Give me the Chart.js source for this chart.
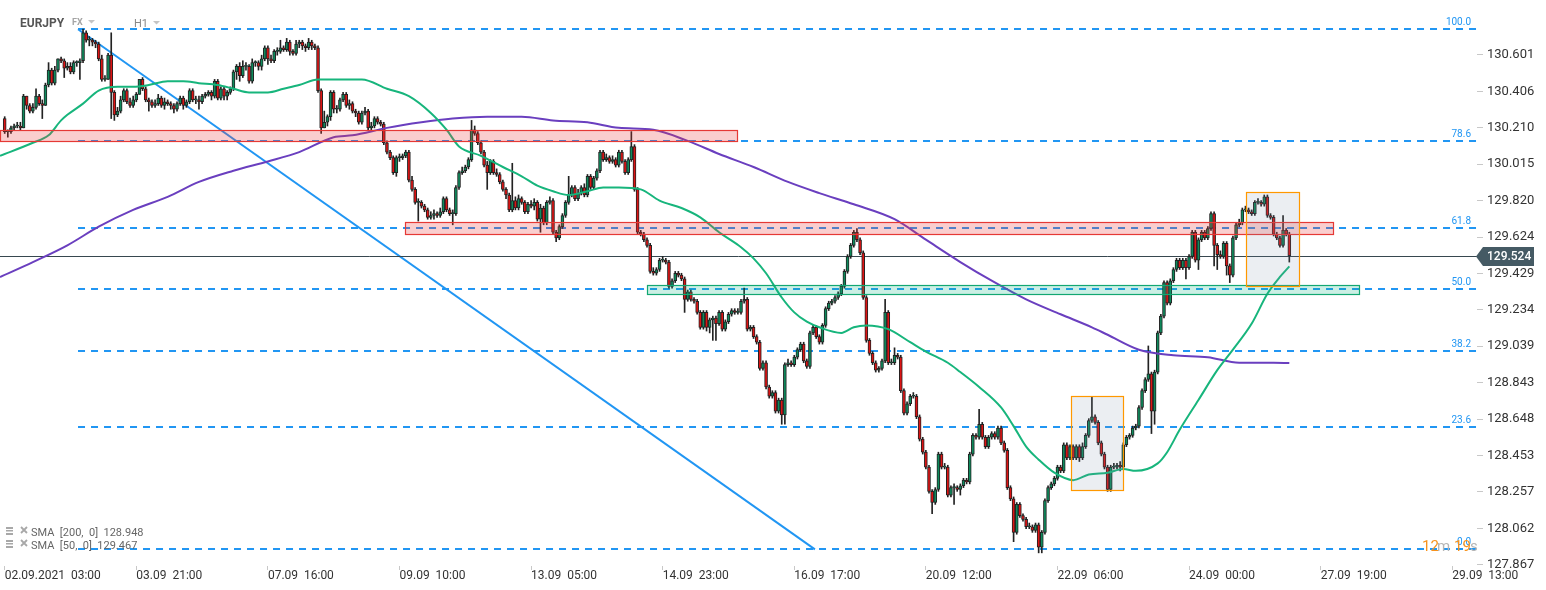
<!DOCTYPE html>
<html>
<head>
<meta charset="utf-8">
<script src="https://cdn.jsdelivr.net/npm/chart.js@4"></script>
<style>
  body { margin: 0; background: #fff; }
  canvas { display: block; }
</style>
</head>
<body>
<canvas id="chart" width="1546" height="590"></canvas>
<script>
// EURJPY H1 candles, one per hour from 02.09 03:00
const firstOpen = 130.26;
const closes = [
  130.19,130.19,130.21,130.22,130.22,130.21,130.38,130.33,130.30,130.32,
  130.38,130.34,130.33,130.44,130.52,130.45,130.52,130.58,130.57,130.53,
  130.54,130.51,130.56,130.56,130.57,130.72,130.68,130.68,130.67,130.66,
  130.58,130.47,130.47,130.60,130.40,130.28,130.30,130.36,130.41,130.35,
  130.33,130.36,130.39,130.47,130.42,130.36,130.35,130.33,130.34,130.37,
  130.33,130.35,130.34,130.33,130.31,130.34,130.37,130.33,130.35,130.41,
  130.36,130.36,130.35,130.38,130.39,130.40,130.38,130.46,130.37,130.42,
  130.38,130.40,130.42,130.51,130.54,130.49,130.54,130.54,130.46,130.56,
  130.56,130.54,130.58,130.64,130.58,130.57,130.62,130.62,130.64,130.63,
  130.67,130.62,130.61,130.66,130.67,130.65,130.64,130.67,130.65,130.64,
  130.41,130.21,130.24,130.27,130.40,130.31,
  130.31,130.36,130.39,130.33,130.34,130.30,130.29,130.24,130.29,130.30,
  130.21,130.22,130.26,130.24,130.23,130.13,130.08,130.05,129.97,130.05,
  130.05,130.06,130.08,129.93,129.88,129.81,129.81,129.79,129.77,129.73,
  129.74,129.75,129.74,129.76,129.83,129.77,129.75,129.75,129.89,129.97,
  129.98,130.00,130.04,130.20,130.18,130.13,130.08,130.01,129.97,130.03,
  129.97,129.96,129.92,129.88,129.85,129.77,129.82,129.78,129.83,129.81,
  129.76,129.80,129.79,129.81,129.72,129.78,129.70,129.81,129.82,129.65,
  129.62,129.68,129.74,129.81,129.85,129.89,129.83,129.86,129.89,129.85,
  129.95,129.89,129.94,129.98,130.08,130.04,130.05,130.03,130.04,130.01,
  130.08,130.03,129.97,130.04,130.11,129.88,129.65,
  129.64,129.61,129.58,129.44,129.43,129.45,129.50,129.50,129.49,129.36,
  129.39,129.43,129.42,129.40,129.29,129.33,129.29,129.28,129.22,129.14,
  129.22,129.14,129.18,129.19,129.16,129.22,129.13,129.17,129.21,129.23,
  129.22,129.22,129.28,129.29,129.13,129.14,129.09,129.06,128.92,128.95,
  128.82,128.77,128.79,128.69,128.75,128.67,128.94,128.95,128.94,128.98,
  129.02,129.05,128.96,128.93,129.11,129.14,129.09,129.06,129.15,129.24,
  129.27,129.28,129.30,129.32,129.36,129.44,129.52,129.58,129.65,129.61,
  129.54,129.30,129.07,129.00,128.95,128.91,128.92,128.96,129.22,128.95,
  128.95,128.99,128.98,128.80,128.68,128.73,128.77,128.77,128.66,128.54,
  128.47,128.39,128.26,128.20,128.27,128.46,128.39,128.39,128.24,128.28,
  128.28,128.27,128.29,128.32,128.31,128.46,128.56,128.55,128.62,128.55,
  128.50,128.55,128.57,128.55,128.60,128.52,128.48,128.28,128.22,128.04,
  128.19,128.13,128.11,128.07,128.07,128.05,128.08,127.96,128.04,128.21,
  128.28,128.30,128.33,128.39,128.37,128.51,128.44,128.50,128.44,128.50,
  128.44,128.50,128.56,128.64,128.66,128.63,128.52,128.46,128.39,128.27,
  128.39,128.39,128.40,128.39,128.51,128.55,128.56,128.60,128.61,128.71,
  128.80,128.86,128.89,128.69,128.90,129.11,129.20,129.38,129.27,129.39,
  129.45,129.50,129.46,129.50,129.46,129.52,129.65,129.50,129.61,129.65,
  129.62,129.67,129.75,129.58,129.53,129.52,129.59,129.47,129.42,129.62,
  129.69,129.70,129.77,129.77,129.76,129.75,129.81,129.81,129.80,129.84,
  129.74,129.73,129.64,129.62,129.58,129.66,129.64,129.524
];
const highs = [
  130.27,130.20,130.22,130.23,130.24,130.24,130.39,130.38,130.34,130.34,
  130.42,130.39,130.36,130.45,130.56,130.53,130.54,130.58,130.59,130.58,
  130.56,130.56,130.57,130.57,130.58,130.74,130.73,130.70,130.69,130.68,
  130.67,130.60,130.49,130.61,130.72,130.41,130.32,130.38,130.42,130.42,
  130.37,130.38,130.40,130.47,130.48,130.43,130.37,130.36,130.36,130.39,
  130.38,130.37,130.36,130.35,130.34,130.35,130.38,130.38,130.36,130.42,
  130.42,130.38,130.38,130.39,130.40,130.41,130.41,130.47,130.47,130.43,
  130.43,130.41,130.43,130.52,130.55,130.56,130.57,130.56,130.55,130.58,
  130.57,130.57,130.60,130.65,130.65,130.60,130.63,130.64,130.68,130.65,
  130.69,130.68,130.63,130.68,130.68,130.68,130.66,130.69,130.68,130.66,
  130.65,130.42,130.30,130.28,130.41,130.41,
  130.33,130.37,130.40,130.40,130.36,130.35,130.31,130.30,130.30,130.32,
  130.31,130.24,130.27,130.27,130.25,130.24,130.14,130.09,130.06,130.06,
  130.07,130.07,130.09,130.09,129.95,129.89,129.83,129.82,129.80,129.78,
  129.76,129.77,129.76,129.78,129.84,129.84,129.78,129.77,129.90,129.98,
  130.00,130.01,130.05,130.25,130.22,130.19,130.14,130.09,130.03,130.04,
  130.04,129.99,129.97,129.93,129.89,129.86,130.02,129.84,129.85,129.84,
  129.82,129.81,129.82,129.83,129.82,129.80,129.79,129.82,129.84,129.83,
  129.66,129.69,129.75,129.82,129.95,129.90,129.90,129.88,129.90,129.91,
  129.96,129.96,129.95,129.99,130.09,130.09,130.07,130.06,130.06,130.05,
  130.09,130.09,130.04,130.05,130.19,130.12,129.89,
  129.66,129.65,129.62,129.59,129.46,129.46,129.51,129.52,129.51,129.50,
  129.40,129.44,129.44,129.43,129.41,129.34,129.34,129.30,129.29,129.23,
  129.23,129.23,129.19,129.20,129.20,129.23,129.23,129.18,129.22,129.24,
  129.24,129.24,129.29,129.35,129.30,129.15,129.15,129.10,129.07,128.96,
  128.96,128.83,128.80,128.80,128.76,128.76,128.95,128.97,128.96,128.99,
  129.03,129.06,129.06,128.97,129.12,129.15,129.15,129.10,129.16,129.25,
  129.28,129.29,129.31,129.33,129.37,129.45,129.53,129.59,129.66,129.67,
  129.62,129.55,129.31,129.08,129.01,128.96,128.93,128.97,129.29,129.23,
  128.97,129.03,129.00,128.99,128.81,128.74,128.78,128.79,128.78,128.67,
  128.55,128.48,128.40,128.27,128.28,128.47,128.47,128.41,128.40,128.29,
  128.30,128.29,128.30,128.33,128.33,128.47,128.57,128.57,128.70,128.63,
  128.56,128.56,128.58,128.58,128.61,128.61,128.53,128.49,128.29,128.23,
  128.20,128.20,128.14,128.12,128.09,128.08,128.09,128.09,128.05,128.22,
  128.29,128.31,128.34,128.40,128.40,128.52,128.52,128.51,128.51,128.51,
  128.51,128.52,128.57,128.65,128.77,128.67,128.64,128.53,128.47,128.40,
  128.40,128.41,128.41,128.42,128.52,128.56,128.57,128.61,128.62,128.72,
  128.81,128.87,129.04,128.90,128.91,129.12,129.21,129.39,129.39,129.40,
  129.46,129.51,129.51,129.51,129.51,129.53,129.66,129.66,129.62,129.66,
  129.66,129.68,129.76,129.76,129.59,129.55,129.60,129.60,129.48,129.63,
  129.70,129.72,129.78,129.79,129.78,129.77,129.82,129.83,129.82,129.85,
  129.85,129.75,129.74,129.65,129.63,129.74,129.67,129.65
];
const lows = [
  130.18,130.16,130.18,130.20,130.21,130.20,130.21,130.31,130.29,130.29,
  130.31,130.33,130.26,130.33,130.43,130.44,130.44,130.51,130.56,130.48,
  130.52,130.50,130.50,130.54,130.47,130.56,130.67,130.65,130.65,130.64,
  130.57,130.46,130.46,130.47,130.26,130.25,130.27,130.29,130.35,130.34,
  130.32,130.32,130.35,130.39,130.41,130.35,130.30,130.32,130.32,130.33,
  130.32,130.31,130.33,130.31,130.29,130.30,130.33,130.31,130.32,130.34,
  130.35,130.34,130.31,130.34,130.37,130.38,130.36,130.37,130.36,130.36,
  130.36,130.36,130.39,130.41,130.47,130.46,130.48,130.52,130.45,130.45,
  130.54,130.52,130.52,130.57,130.55,130.56,130.56,130.60,130.61,130.62,
  130.62,130.60,130.60,130.60,130.64,130.63,130.62,130.63,130.63,130.63,
  130.40,130.18,130.21,130.22,130.25,130.29,
  130.29,130.30,130.35,130.32,130.31,130.29,130.27,130.23,130.23,130.28,
  130.20,130.19,130.21,130.23,130.22,130.12,130.07,130.04,129.96,129.95,
  130.03,130.04,130.05,129.92,129.87,129.80,129.71,129.78,129.76,129.72,
  129.72,129.72,129.73,129.73,129.75,129.76,129.74,129.69,129.74,129.88,
  129.96,129.97,129.99,130.03,130.17,130.12,130.07,130.00,129.88,129.96,
  129.96,129.95,129.91,129.87,129.83,129.76,129.76,129.77,129.77,129.80,
  129.75,129.75,129.78,129.77,129.71,129.65,129.69,129.69,129.80,129.64,
  129.60,129.61,129.67,129.73,129.80,129.84,129.82,129.82,129.85,129.84,
  129.84,129.88,129.88,129.93,129.97,130.03,130.03,130.02,130.02,130.00,
  130.00,130.02,129.96,129.96,130.03,129.87,129.64,
  129.63,129.60,129.57,129.43,129.42,129.42,129.44,129.49,129.48,129.35,
  129.35,129.38,129.41,129.39,129.22,129.28,129.28,129.27,129.21,129.13,
  129.13,129.12,129.11,129.07,129.07,129.15,129.12,129.12,129.16,129.20,
  129.21,129.21,129.21,129.27,129.12,129.12,129.08,129.05,128.91,128.91,
  128.81,128.76,128.76,128.68,128.68,128.62,128.62,128.93,128.93,128.93,
  128.97,129.01,128.95,128.92,128.92,129.10,129.08,129.05,129.05,129.14,
  129.23,129.26,129.27,129.29,129.31,129.35,129.43,129.51,129.57,129.60,
  129.53,129.29,129.06,128.99,128.94,128.90,128.90,128.91,128.95,128.94,
  128.94,128.94,128.97,128.79,128.67,128.67,128.72,128.76,128.65,128.53,
  128.46,128.38,128.25,128.14,128.19,128.26,128.38,128.38,128.23,128.23,
  128.19,128.26,128.24,128.28,128.30,128.30,128.45,128.54,128.54,128.54,
  128.49,128.49,128.54,128.54,128.54,128.51,128.47,128.27,128.21,127.99,
  128.03,128.12,128.10,128.06,128.06,128.04,128.04,127.93,127.93,128.03,
  128.20,128.27,128.29,128.32,128.36,128.36,128.43,128.43,128.43,128.43,
  128.42,128.43,128.49,128.55,128.63,128.62,128.51,128.45,128.38,128.26,
  128.26,128.38,128.38,128.37,128.38,128.50,128.54,128.55,128.59,128.60,
  128.70,128.79,128.85,128.57,128.62,128.89,129.10,129.19,129.26,129.26,
  129.38,129.44,129.45,129.45,129.40,129.45,129.51,129.49,129.45,129.60,
  129.61,129.61,129.66,129.47,129.45,129.51,129.51,129.42,129.38,129.41,
  129.61,129.68,129.69,129.76,129.75,129.74,129.74,129.80,129.79,129.79,
  129.73,129.72,129.63,129.61,129.57,129.57,129.63,129.49
];

// moving averages, read at candle indexes
const sma50Idx = [-1.5,9,14,18,20,25,30,36,41,46,52,57,62,68,73,78,84,89,94,100,
  105,114,122,129,136,141,145,152,159,165,170,175,180,186,191,196,203,209,216,222,
  228,235,239,243,248,252,256,260,267,271,275,282,289,294,301,305,311,318,322,326,
  330,335,341,346,352,357,361,368,371,375,381,387,392,398,403,407,410];
const sma50Val = [130.06,130.13,130.17,130.25,130.28,130.34,130.41,130.43,130.43,130.44,
  130.46,130.46,130.45,130.44,130.42,130.40,130.40,130.42,130.44,130.47,
  130.47,130.47,130.42,130.38,130.29,130.20,130.11,130.06,130.00,129.95,
  129.90,129.87,129.85,129.87,129.89,129.89,129.88,129.82,129.78,129.73,
  129.65,129.57,129.51,129.43,129.30,129.22,129.17,129.14,129.11,129.14,
  129.15,129.13,129.06,129.01,128.95,128.90,128.82,128.71,128.61,128.50,
  128.43,128.36,128.32,128.35,128.36,128.38,128.37,128.41,128.47,128.59,
  128.75,128.91,129.02,129.16,129.32,129.41,129.467];
const sma200Idx = [-1.5,9,20,30,41,52,62,73,84,94,105,111,122,133,143,154,165,175,186,196,
  207,218,228,239,250,260,271,284,294,305,315,326,337,347,352,362,373,384,394,405,410];
const sma200Val = [129.41,129.49,129.58,129.68,129.77,129.84,129.92,129.98,130.03,130.08,
  130.16,130.17,130.21,130.24,130.26,130.27,130.27,130.25,130.24,130.21,
  130.20,130.14,130.07,130.00,129.92,129.86,129.80,129.72,129.61,129.49,
  129.39,129.29,129.21,129.14,129.10,129.02,128.99,128.98,128.95,128.95,128.948];

// axis ticks
const xTickIdx = [0,42,84,126,168,210,252,294,336,378,420,462];
const xTickLabels = ['02.09.2021  03:00','03.09  21:00','07.09  16:00','09.09  10:00','13.09  05:00',
  '14.09  23:00','16.09  17:00','20.09  12:00','22.09  06:00','24.09  00:00','27.09  19:00','29.09  13:00'];
const yTickVals = [130.601,130.406,130.210,130.015,129.820,129.624,129.429,129.234,
  129.039,128.843,128.648,128.453,128.257,128.062,127.867];

// fibonacci retracement
const fibLevels = [100, 78.6, 61.8, 50, 38.2, 23.6, 0];
const fibHigh = 130.739, fibLow = 127.949;
const fibStartIdx = 23.4, fibEndIdx = 258.6;
const lastPrice = 129.524;

// zones: resistance / support
const zoneFrom = [-1.5, 127.8, 205.0];
const zoneTo = [233.7, 424.0, 432.3];
const zoneTop = [130.199, 129.705, 129.367];
const zoneBottom = [130.137, 129.638, 129.319];
const zoneKind = ['res', 'res', 'sup'];
const boxFrom = [340.3, 396.2];
const boxTo = [357.0, 413.1];
const boxTop = [128.771, 129.866];
const boxBottom = [128.267, 129.362];

const opens = closes.map((c, i) => i === 0 ? firstOpen : closes[i - 1]);
const upColor = '#0e8a5c', downColor = '#dc1414';
const bodyColors = closes.map((c, i) => c >= opens[i] ? upColor : downColor);

const overlay = {
    id: 'overlay',
    beforeDatasetsDraw(chart) {
        const {ctx, chartArea: a, scales: {x, y}} = chart;
        ctx.save();
        // fib lines
        ctx.strokeStyle = '#2196f3';
        ctx.lineWidth = 2;
        ctx.setLineDash([7, 6]);
        const fx = x.getPixelForValue(fibStartIdx);
        fibLevels.forEach(l => {
            const py = Math.round(y.getPixelForValue(fibLow + (fibHigh - fibLow) * l / 100));
            ctx.beginPath();
            ctx.moveTo(fx, py);
            ctx.lineTo(a.right, py);
            ctx.stroke();
        });
        ctx.setLineDash([]);
        // fib diagonal
        ctx.beginPath();
        ctx.moveTo(fx, y.getPixelForValue(fibHigh));
        ctx.lineTo(x.getPixelForValue(fibEndIdx), y.getPixelForValue(fibLow));
        ctx.stroke();
        // last price line
        const lp = Math.round(y.getPixelForValue(lastPrice)) + 0.5;
        ctx.strokeStyle = '#37474f';
        ctx.lineWidth = 1;
        ctx.beginPath();
        ctx.moveTo(a.left, lp);
        ctx.lineTo(a.right, lp);
        ctx.stroke();
        ctx.restore();
    },
    afterDatasetsDraw(chart) {
        const {ctx, scales: {x, y}} = chart;
        ctx.save();
        const rect = (i0, i1, v0, v1, fill, stroke) => {
            const px0 = Math.round(x.getPixelForValue(i0)) + 0.5;
            const px1 = Math.round(x.getPixelForValue(i1)) + 0.5;
            const py0 = Math.round(y.getPixelForValue(v0)) + 0.5;
            const py1 = Math.round(y.getPixelForValue(v1)) + 0.5;
            ctx.fillStyle = fill;
            ctx.fillRect(px0, py0, px1 - px0, py1 - py0);
            ctx.strokeStyle = stroke;
            ctx.lineWidth = 1.2;
            ctx.strokeRect(px0, py0, px1 - px0, py1 - py0);
        };
        zoneFrom.forEach((f, k) => {
            if (zoneKind[k] === 'res') rect(f, zoneTo[k], zoneTop[k], zoneBottom[k], 'rgba(235,60,60,0.25)', '#e53935');
            else rect(f, zoneTo[k], zoneTop[k], zoneBottom[k], 'rgba(20,180,130,0.22)', '#12a772');
        });
        boxFrom.forEach((f, k) => {
            rect(f, boxTo[k], boxTop[k], boxBottom[k], 'rgba(120,140,170,0.15)', '#ff9800');
        });
        ctx.restore();
    },
    afterDraw(chart) {
        const {ctx, chartArea: a, scales: {y}} = chart;
        ctx.save();
        // fib labels
        ctx.font = '10px Roboto';
        ctx.fillStyle = '#2196f3';
        ctx.textAlign = 'right';
        ctx.textBaseline = 'alphabetic';
        fibLevels.forEach(l => {
            const py = Math.round(y.getPixelForValue(fibLow + (fibHigh - fibLow) * l / 100));
            ctx.fillText(l.toFixed(1), 1471, py - 4);
        });
        // last price tag
        const lp = Math.round(y.getPixelForValue(lastPrice));
        ctx.fillStyle = '#455a64';
        ctx.beginPath();
        ctx.moveTo(a.right - 1, lp + 0.5);
        ctx.lineTo(a.right + 6, lp - 9);
        ctx.lineTo(1534, lp - 9);
        ctx.lineTo(1534, lp + 10);
        ctx.lineTo(a.right + 6, lp + 10);
        ctx.closePath();
        ctx.fill();
        ctx.fillStyle = '#fff';
        ctx.textAlign = 'left';
        ctx.textBaseline = 'middle';
        ctx.font = '500 12px Roboto';
        ctx.fillText(lastPrice.toFixed(3), 1487, lp + 1);
        // header
        ctx.textBaseline = 'alphabetic';
        ctx.font = 'bold 12px Roboto';
        ctx.fillStyle = '#555';
        ctx.fillText('EURJPY', 20, 27);
        ctx.font = 'bold 9px Roboto';
        ctx.fillStyle = '#a5a5a5';
        ctx.fillText('FX', 72, 25);
        ctx.font = '11px Roboto';
        ctx.fillStyle = '#888';
        ctx.fillText('H1', 134, 27);
        ctx.fillStyle = '#c4c4c4';
        [[88, 20], [153, 21]].forEach(([tx, ty]) => {
            ctx.beginPath();
            ctx.moveTo(tx, ty);
            ctx.lineTo(tx + 7, ty);
            ctx.lineTo(tx + 3.5, ty + 3.5);
            ctx.closePath();
            ctx.fill();
        });
        // indicator legend
        const rows = [['SMA  [200,  0]  128.948', 536], ['SMA  [50,  0]  129.467', 549]];
        rows.forEach(([txt, by]) => {
            ctx.fillStyle = '#a8a8a8';
            ctx.fillRect(6, by - 9, 7, 2);
            ctx.fillRect(6, by - 6, 7, 1.5);
            ctx.fillRect(6, by - 3, 7, 2);
            ctx.strokeStyle = '#a8a8a8';
            ctx.lineWidth = 1.8;
            ctx.beginPath();
            ctx.moveTo(21, by - 9); ctx.lineTo(27, by - 3);
            ctx.moveTo(27, by - 9); ctx.lineTo(21, by - 3);
            ctx.stroke();
            ctx.fillStyle = '#666';
            ctx.font = '11px Roboto';
            ctx.fillText(txt, 31, by);
        });
        // candle timer
        ctx.font = '15px Roboto';
        ctx.fillStyle = '#f7931e'; ctx.fillText('12', 1422, 551);
        ctx.fillStyle = '#b5b5b5'; ctx.fillText('m', 1437, 551);
        ctx.fillStyle = '#f7931e'; ctx.fillText('19', 1454, 551);
        ctx.fillStyle = '#b5b5b5'; ctx.fillText('s', 1470, 551);
        ctx.restore();
    }
};

const ctx = document.getElementById('chart').getContext('2d');
const chart = new Chart(ctx, {
    type: 'bar',
    data: {
        datasets: [
            {
                type: 'line',
                data: sma50Idx.map((v, i) => ({x: v, y: sma50Val[i]})),
                borderColor: '#17b57c',
                borderWidth: 2,
                pointRadius: 0,
                cubicInterpolationMode: 'monotone',
                order: 1
            },
            {
                type: 'line',
                data: sma200Idx.map((v, i) => ({x: v, y: sma200Val[i]})),
                borderColor: '#6a3fbf',
                borderWidth: 2,
                pointRadius: 0,
                cubicInterpolationMode: 'monotone',
                order: 1
            },
            {
                data: closes.map((c, i) => ({x: i, y: [opens[i], c]})),
                backgroundColor: bodyColors,
                borderColor: '#222',
                borderWidth: 1,
                borderSkipped: false,
                barThickness: 3,
                minBarLength: 1,
                grouped: false,
                order: 2
            },
            {
                data: closes.map((c, i) => ({x: i, y: [lows[i], highs[i]]})),
                backgroundColor: '#222',
                borderWidth: 0,
                barThickness: 1,
                grouped: false,
                order: 3
            }
        ]
    },
    options: {
        responsive: false,
        animation: false,
        layout: { padding: 0, autoPadding: false },
        plugins: { legend: { display: false }, tooltip: { enabled: false } },
        scales: {
            x: {
                type: 'linear',
                min: -1.5,
                max: 469.9,
                offset: false,
                grid: { offset: false, drawOnChartArea: false, drawTicks: true, tickLength: 4, color: '#c8c8c8' },
                border: { display: false },
                ticks: {
                    autoSkip: false,
                    maxRotation: 0,
                    align: 'start',
                    padding: -1,
                    color: '#333',
                    font: { family: 'Roboto', size: 12 },
                    callback: (v, i) => xTickLabels[i]
                },
                afterBuildTicks: s => { s.ticks = xTickIdx.map(v => ({value: v})); },
                afterFit: s => { s.height = 24; s.paddingLeft = 0; s.paddingRight = 0; }
            },
            y: {
                position: 'right',
                min: 127.8595,
                max: 130.896,
                grid: { drawOnChartArea: false, drawTicks: true, tickLength: 6, color: '#c8c8c8' },
                border: { display: false },
                ticks: {
                    padding: 4,
                    color: '#333',
                    font: { family: 'Roboto', size: 13 },
                    callback: v => v.toFixed(3)
                },
                afterBuildTicks: s => { s.ticks = yTickVals.map(v => ({value: v})); },
                afterFit: s => { s.width = 69; s.paddingTop = 0; s.paddingBottom = 0; }
            }
        }
    },
    plugins: [overlay]
});
</script>
</body>
</html>
